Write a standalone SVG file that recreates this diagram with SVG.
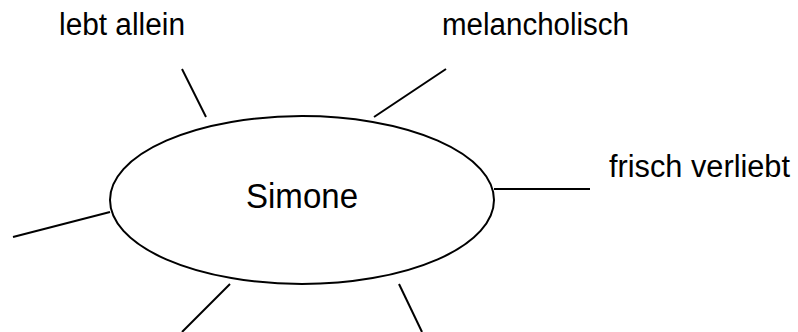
<svg xmlns="http://www.w3.org/2000/svg" width="798" height="332" viewBox="0 0 798 332">
<style>
.lbl{font-family:"Liberation Sans",Arial,sans-serif;font-size:31px;fill:#000}
.ctr{font-family:"Liberation Sans",Arial,sans-serif;font-size:35px;fill:#000}
.ln{stroke:#000;stroke-width:2;fill:none}
</style>
<rect width="798" height="332" fill="#fff"/>
<g id="connectors">
<line class="ln" x1="182" y1="69" x2="206" y2="117"/>
<line class="ln" x1="374" y1="117" x2="446" y2="69"/>
<line class="ln" x1="494" y1="189" x2="590" y2="189"/>
<line class="ln" x1="13" y1="237" x2="110" y2="212"/>
<line class="ln" x1="230" y1="284" x2="182" y2="332"/>
<line class="ln" x1="399" y1="284" x2="422" y2="332"/>
</g>
<g id="simone">
<ellipse class="ln" cx="302" cy="200" rx="192" ry="84"/>
<text class="ctr" x="246" y="208" textLength="112" lengthAdjust="spacingAndGlyphs">Simone</text>
</g>
<g id="lebt-allein"><text class="lbl" x="59" y="35" textLength="126" lengthAdjust="spacingAndGlyphs">lebt allein</text></g>
<g id="melancholisch"><text class="lbl" x="442" y="35" textLength="187" lengthAdjust="spacingAndGlyphs">melancholisch</text></g>
<g id="frisch-verliebt"><text class="lbl" x="609" y="177" textLength="181" lengthAdjust="spacingAndGlyphs">frisch verliebt</text></g>
</svg>
